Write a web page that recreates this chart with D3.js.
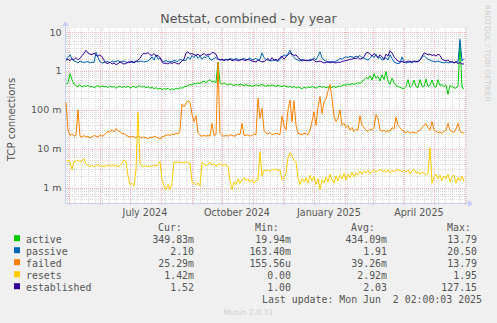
<!DOCTYPE html>
<html>
<head>
<meta charset="utf-8">
<script src="https://cdn.jsdelivr.net/npm/d3@7"></script>
<style>
  body { margin: 0; background: #f0f0f0; }
  svg { display: block; }
</style>
</head>
<body>
<svg id="chart" width="497" height="323"></svg>
<script>
// Netstat TCP connection rates, 2-day samples from 2024-04-28 to 2025-06-01
const startTime = Date.UTC(2024, 3, 28, 2, 0, 3);
const endTime = Date.UTC(2025, 5, 2, 2, 0, 3);
const stepDays = 2;

const seriesNames = ["active", "passive", "failed", "resets", "established"];
const seriesColors = ["#00cc00", "#0066b3", "#ff8000", "#ffcc00", "#330099"];

const active = [
  0.45,0.5,0.85,0.6,0.45,0.42,0.4,0.44,0.38,0.42,
  0.4,0.43,0.38,0.41,0.37,0.4,0.42,0.38,0.41,0.39,
  0.4,0.37,0.42,0.38,0.4,0.36,0.39,0.41,0.37,0.4,
  0.38,0.41,0.36,0.39,0.4,0.37,0.4,0.42,0.38,0.41,
  0.37,0.39,0.36,0.38,0.35,0.37,0.34,0.36,0.33,0.35,
  0.34,0.36,0.32,0.35,0.33,0.36,0.34,0.37,0.36,0.39,
  0.4,0.42,0.45,0.43,0.48,0.46,0.5,0.47,0.52,0.55,
  0.5,0.55,0.6,0.52,0.55,0.5,1.7,0.5,0.45,0.5,
  0.46,0.43,0.47,0.44,0.42,0.45,0.43,0.46,0.44,0.42,
  0.45,0.41,0.43,0.4,0.42,0.44,0.41,0.43,0.45,0.42,
  0.4,0.43,0.41,0.44,0.42,0.4,0.43,0.41,0.39,0.42,
  0.4,0.38,0.41,0.37,0.4,0.36,0.39,0.37,0.35,0.38,
  0.36,0.39,0.37,0.4,0.38,0.36,0.39,0.41,0.38,0.4,
  0.37,0.39,0.36,0.38,0.4,0.37,0.41,0.39,0.42,0.44,
  0.43,0.46,0.44,0.48,0.45,0.47,0.5,0.48,0.52,0.6,
  0.68,0.62,0.75,0.58,0.85,0.65,0.72,0.55,0.8,0.6,
  0.97,0.55,0.45,0.65,0.5,0.42,0.4,0.38,0.36,0.35,
  0.4,0.6,0.38,0.42,0.58,0.4,0.37,0.6,0.41,0.39,
  0.62,0.4,0.43,0.58,0.41,0.38,0.6,0.42,0.45,0.39,
  0.44,0.25,0.42,0.4,0.37,0.36,0.42,5.4,0.38,0.35
];

const passive = [
  2.0,2.2,2.6,2.0,1.8,1.75,1.6,1.8,1.7,1.65,
  1.7,1.75,1.6,1.7,1.65,3.0,2.2,1.7,1.6,1.65,
  1.7,1.75,1.6,1.8,1.7,1.75,1.85,1.7,1.75,1.8,
  1.7,1.6,1.75,1.65,1.7,1.8,1.7,1.75,1.8,1.7,
  1.75,1.8,2.0,2.3,1.9,2.6,2.0,2.2,1.8,1.75,
  1.85,1.7,1.8,1.7,1.9,1.8,1.75,2.0,1.9,1.85,
  1.9,2.3,2.0,2.5,2.2,2.6,2.1,2.4,2.0,2.3,
  2.2,2.5,2.0,1.9,2.1,2.2,1.95,2.0,1.9,1.95,
  2.0,1.9,2.1,2.0,1.95,2.1,2.0,1.9,2.0,2.1,
  1.95,2.0,2.2,1.9,2.0,2.1,1.95,2.0,2.9,2.2,
  2.0,1.9,1.85,1.8,1.9,1.85,1.75,2.0,2.3,2.6,
  2.4,2.8,3.4,2.5,2.2,2.0,1.9,1.8,2.0,1.9,
  1.85,1.8,2.0,1.9,2.2,1.9,2.4,3.1,2.2,1.9,
  1.8,1.7,1.75,1.65,1.7,1.8,1.9,2.1,2.0,2.2,
  2.3,2.2,2.4,2.3,2.2,2.4,2.3,2.5,2.2,2.1,
  2.0,1.9,2.1,2.5,2.2,2.7,2.1,2.3,1.9,2.0,
  2.2,1.9,2.6,2.1,1.7,1.6,1.55,1.6,2.3,1.7,
  1.6,1.65,1.7,1.6,1.75,1.7,1.8,1.9,2.2,2.5,
  2.2,2.0,1.9,1.8,1.75,1.7,1.8,1.7,1.65,1.6,
  1.7,1.6,1.65,1.7,1.6,1.75,1.7,6.5,1.8,2.1
];

const failed = [
  0.155,0.03,0.022,0.024,0.021,0.022,0.1,0.021,0.02,0.022,
  0.02,0.021,0.019,0.02,0.022,0.021,0.02,0.023,0.021,0.022,
  0.025,0.028,0.026,0.031,0.027,0.033,0.029,0.028,0.024,0.025,
  0.022,0.021,0.02,0.021,0.02,0.019,0.021,0.02,0.019,0.02,
  0.019,0.018,0.02,0.019,0.021,0.02,0.019,0.018,0.02,0.021,
  0.022,0.023,0.022,0.024,0.023,0.025,0.024,0.03,0.14,0.12,
  0.15,0.17,0.16,0.075,0.05,0.07,0.025,0.022,0.021,0.022,
  0.021,0.022,0.021,0.045,0.022,0.023,1.7,0.025,0.022,0.021,
  0.022,0.021,0.023,0.022,0.021,0.022,0.024,0.023,0.045,0.022,
  0.022,0.023,0.021,0.022,0.024,0.023,0.2,0.06,0.11,0.03,
  0.025,0.024,0.026,0.023,0.024,0.025,0.024,0.023,0.07,0.04,
  0.03,0.1,0.18,0.05,0.17,0.04,0.025,0.024,0.023,0.025,
  0.024,0.023,0.03,0.05,0.09,0.04,0.12,0.22,0.08,0.16,
  0.19,0.3,0.45,0.2,0.07,0.05,0.06,0.1,0.04,0.045,
  0.035,0.04,0.03,0.035,0.028,0.032,0.03,0.07,0.04,0.035,
  0.03,0.028,0.032,0.03,0.035,0.075,0.06,0.03,0.028,0.03,
  0.027,0.03,0.028,0.035,0.032,0.065,0.04,0.035,0.03,0.028,
  0.026,0.028,0.025,0.027,0.026,0.025,0.028,0.03,0.035,0.04,
  0.045,0.035,0.03,0.05,0.03,0.028,0.026,0.027,0.025,0.028,
  0.03,0.045,0.03,0.028,0.026,0.032,0.045,0.028,0.026,0.02529
];

const resets = [
  0.0049,0.005,0.0047,0.0029,0.0048,0.0047,0.0052,0.0046,0.005,0.0055,
  0.004,0.0037,0.0035,0.0038,0.0034,0.0036,0.0039,0.0035,0.0037,0.0034,
  0.0036,0.0038,0.0035,0.0039,0.0036,0.0037,0.0034,0.0038,0.0042,0.0052,
  0.0045,0.002,0.0012,0.0013,0.0011,0.003,0.085,0.004,0.0036,0.0035,
  0.0037,0.0034,0.0036,0.0035,0.0038,0.0036,0.0039,0.0047,0.0016,0.0011,
  0.0009,0.0012,0.0009,0.0013,0.0046,0.0045,0.0046,0.0044,0.0045,0.0043,
  0.0046,0.0044,0.0042,0.0014,0.0013,0.0012,0.0013,0.0011,0.0044,0.0042,
  0.0036,0.004,0.0045,0.0038,0.0041,0.0036,0.0039,0.0042,0.0037,0.004,
  0.0038,0.0035,0.0015,0.0009,0.0014,0.0012,0.0017,0.0013,0.0016,0.0018,
  0.0015,0.0017,0.0014,0.0016,0.0013,0.0015,0.0016,0.0083,0.002,0.0028,
  0.0027,0.0029,0.0026,0.003,0.0028,0.0031,0.0027,0.0029,0.0016,0.0018,
  0.0024,0.006,0.0079,0.0065,0.005,0.0045,0.0018,0.0012,0.0017,0.0014,
  0.0018,0.0013,0.0021,0.0015,0.0019,0.0012,0.0017,0.0009,0.0016,0.0013,
  0.0019,0.0014,0.0022,0.0016,0.0013,0.002,0.0015,0.0021,0.0017,0.0023,
  0.0016,0.0022,0.0018,0.0025,0.0019,0.0024,0.0021,0.0026,0.0022,0.0027,
  0.0024,0.0028,0.0023,0.0026,0.0029,0.0025,0.0027,0.003,0.0026,0.0028,
  0.0025,0.0029,0.0024,0.0027,0.0026,0.0028,0.0029,0.0027,0.0026,0.0028,
  0.0025,0.0029,0.0023,0.0027,0.003,0.0024,0.0026,0.0022,0.0025,0.0023,
  0.0021,0.0024,0.0106,0.0013,0.0019,0.0022,0.0017,0.0021,0.0015,0.002,
  0.0017,0.0022,0.0014,0.0019,0.0021,0.0013,0.0018,0.0015,0.002,0.00142
];

const established = [
  1.9,2.0,1.85,2.05,1.95,2.2,1.95,2.1,2.5,2.8,
  3.4,2.9,2.7,2.6,2.9,2.5,2.4,2.6,2.3,1.9,
  1.6,1.55,1.7,1.5,1.6,1.45,1.55,1.7,1.6,1.5,
  1.55,1.7,1.65,1.8,1.6,1.75,1.9,2.1,2.6,2.9,
  2.7,3.0,2.6,2.5,2.8,2.4,2.5,2.2,1.7,1.55,
  1.6,1.5,1.65,1.55,1.7,1.6,1.5,1.6,1.8,2.0,
  2.9,3.1,2.7,2.8,2.6,2.5,2.7,2.4,2.6,2.8,
  2.5,2.7,2.6,3.0,2.9,2.7,2.0,1.9,2.0,1.85,
  1.95,1.9,2.0,1.85,1.9,1.95,1.8,1.9,2.0,1.9,
  1.85,2.0,1.9,1.8,1.75,1.7,1.9,1.8,1.7,1.75,
  1.9,2.1,1.8,2.2,1.9,2.0,1.85,2.2,2.4,2.0,
  2.3,2.6,2.9,2.7,2.5,2.6,2.2,2.0,1.8,1.9,
  1.85,1.9,1.8,2.0,1.9,1.7,1.75,1.8,1.7,1.6,
  1.65,1.7,1.6,1.75,1.65,1.6,1.7,1.65,1.75,1.8,
  1.85,1.9,2.0,2.0,2.1,2.1,2.2,2.0,2.1,2.3,
  2.9,3.0,2.7,2.4,2.8,2.5,2.2,2.6,2.3,2.0,
  2.7,2.4,3.3,2.9,2.3,2.0,1.8,1.7,1.75,1.65,
  1.7,1.8,1.75,1.7,1.8,1.75,1.7,1.9,2.4,2.9,
  2.8,2.6,2.7,2.5,2.6,2.4,2.7,2.5,2.0,1.9,
  1.8,1.9,1.7,1.75,1.6,1.7,1.55,1.65,1.5,1.52
];

// Legend statistics
const statCur = ["349.83m", "2.10", "25.29m", "1.42m", "1.52"];
const statMin = ["19.94m", "163.40m", "155.56u", "0.00", "1.00"];
const statAvg = ["434.09m", "1.91", "39.26m", "2.92m", "2.03"];
const statMax = ["13.79", "20.50", "13.79", "1.95", "127.15"];

// Y axis ticks (decades) and their labels
const yTickValues = [0.001, 0.01, 0.1, 1, 10];
const yTickLabels = ["1 m", "10 m", "100 m", "1", "10"];

const titleText = "Netstat, combined - by year";
const yAxisTitle = "TCP connections";
const lastUpdate = "Last update: Mon Jun  2 02:00:03 2025";
const footerText = "Munin 2.0.73";
const sideText = "RRDTOOL / TOBI OETIKER";

const seriesValues = [active, passive, failed, resets, established];

// ---------- layout ----------
const plot = { left: 66, right: 466, top: 28, bottom: 203 };
const svg = d3.select("#chart");

const x = d3.scaleUtc()
  .domain([new Date(startTime), new Date(endTime)])
  .range([plot.left, plot.right]);

const y = d3.scaleLog()
  .domain([4.03e-4, 12.7])
  .range([plot.bottom, plot.top]);

const dates = d3.range(active.length).map(i => new Date(startTime + i * stepDays * 864e5));

// canvas
svg.append("rect")
  .attr("x", plot.left).attr("y", plot.top)
  .attr("width", plot.right - plot.left).attr("height", plot.bottom - plot.top)
  .attr("fill", "#ffffff");

const grid = svg.append("g").attr("shape-rendering", "crispEdges");
const minorColor = "#dadada";
const majorColor = "#f5b3b3";

// horizontal minor grid (2..9 within each decade)
const minorY = [];
for (let e = -4; e <= 1; e++) {
  for (let k = 2; k <= 9; k++) {
    const v = k * Math.pow(10, e);
    if (v > y.domain()[0] && v < 10) minorY.push(v);
  }
}
grid.selectAll("line.hmin").data(minorY).join("line")
  .attr("x1", plot.left).attr("x2", plot.right)
  .attr("y1", d => Math.round(y(d)) + 0.5).attr("y2", d => Math.round(y(d)) + 0.5)
  .attr("stroke", minorColor).attr("stroke-dasharray", "1,1");

// vertical minor grid (weekly)
const weeks = d3.utcMonday.every(1).range(new Date(startTime), new Date(endTime));
grid.selectAll("line.vmin").data(weeks).join("line")
  .attr("y1", plot.top).attr("y2", plot.bottom)
  .attr("x1", d => Math.round(x(d)) + 0.5).attr("x2", d => Math.round(x(d)) + 0.5)
  .attr("stroke", minorColor).attr("stroke-dasharray", "1,1");

// horizontal major grid (decades)
grid.selectAll("line.hmaj").data(yTickValues).join("line")
  .attr("x1", plot.left).attr("x2", plot.right)
  .attr("y1", d => Math.round(y(d)) + 0.5).attr("y2", d => Math.round(y(d)) + 0.5)
  .attr("stroke", majorColor).attr("stroke-dasharray", "1,1");

// vertical major grid (month starts)
const months = d3.utcMonth.range(new Date(startTime), new Date(endTime));
grid.selectAll("line.vmaj").data(months).join("line")
  .attr("y1", plot.top).attr("y2", plot.bottom + 2)
  .attr("x1", d => Math.round(x(d)) + 0.5).attr("x2", d => Math.round(x(d)) + 0.5)
  .attr("stroke", majorColor).attr("stroke-dasharray", "1,1");

// axes lines + arrows
const axisColor = "#c8cff5";
const ax = svg.append("g").attr("shape-rendering", "crispEdges");
ax.append("line").attr("x1", plot.left - 0.5).attr("x2", plot.left - 0.5)
  .attr("y1", plot.bottom).attr("y2", plot.top - 3).attr("stroke", axisColor);
ax.append("line").attr("x1", plot.left).attr("x2", plot.right + 3)
  .attr("y1", plot.bottom + 0.5).attr("y2", plot.bottom + 0.5).attr("stroke", axisColor);
svg.append("path")
  .attr("d", `M${plot.left - 4},${plot.top - 2} L${plot.left - 0.5},${plot.top - 7} L${plot.left + 3},${plot.top - 2} Z`)
  .attr("fill", axisColor);
svg.append("path")
  .attr("d", `M${plot.right + 2},${plot.bottom - 3} L${plot.right + 7},${plot.bottom + 0.5} L${plot.right + 2},${plot.bottom + 4} Z`)
  .attr("fill", axisColor);

// x axis labels (quarterly, centred on the middle of the month)
const labelMonths = months.filter(d => d.getUTCMonth() % 3 === 0);
const fmtMonth = d3.utcFormat("%B %Y");
svg.append("g").selectAll("text").data(labelMonths).join("text")
  .attr("x", d => x(d3.utcDay.offset(d, 15)))
  .attr("y", 215.5)
  .attr("text-anchor", "middle")
  .attr("font-family", "DejaVu Sans")
  .attr("font-size", 9.6)
  .attr("fill", "#555")
  .text(d => fmtMonth(d));

// y axis tick labels
svg.append("g").selectAll("text").data(yTickValues).join("text")
  .attr("x", 61.5)
  .attr("y", d => y(d) + 3.5)
  .attr("text-anchor", "end")
  .attr("font-family", "DejaVu Sans")
  .attr("font-size", 9.5)
  .attr("fill", "#555")
  .text((d, i) => yTickLabels[i]);

// series lines
const line = d3.line()
  .x((d, i) => x(dates[i]))
  .y(d => y(d));
const lines = svg.append("g");
seriesValues.forEach((vals, si) => {
  lines.append("path")
    .datum(vals)
    .attr("d", line)
    .attr("fill", "none")
    .attr("stroke", seriesColors[si])
    .attr("stroke-width", 1)
    .attr("stroke-linejoin", "round");
});

// title
svg.append("text")
  .attr("x", 248.5).attr("y", 23)
  .attr("text-anchor", "middle")
  .attr("font-family", "DejaVu Sans")
  .attr("font-size", 12.6)
  .attr("fill", "#555")
  .text(titleText);

// y axis title
svg.append("text")
  .attr("transform", `translate(15,${(plot.top + plot.bottom) / 2 + 4}) rotate(-90)`)
  .attr("text-anchor", "middle")
  .attr("font-family", "DejaVu Sans")
  .attr("font-size", 10.2)
  .attr("fill", "#555")
  .text(yAxisTitle);

// vertical side credit
svg.append("text")
  .attr("transform", "translate(485,5) rotate(90)")
  .attr("text-anchor", "start")
  .attr("font-family", "DejaVu Sans")
  .attr("font-size", 7.5)
  .attr("fill", "#cfcfcf")
  .text(sideText);

// legend
const mono = "DejaVu Sans Mono";
const legend = svg.append("g")
  .attr("font-family", mono)
  .attr("font-size", 9.9)
  .attr("fill", "#555");
const headerY = 230.7;
const rowH = 12;
[["Cur:", 158], ["Min:", 255], ["Avg:", 351], ["Max:", 447]].forEach(([t, px]) => {
  legend.append("text").attr("x", px).attr("y", headerY).text(t);
});
seriesNames.forEach((name, i) => {
  const by = headerY + rowH * (i + 1);
  legend.append("rect")
    .attr("x", 14).attr("y", by - 7.5).attr("width", 6).attr("height", 6)
    .attr("fill", seriesColors[i]);
  legend.append("text").attr("x", 26).attr("y", by).text(name);
  legend.append("text").attr("x", 194).attr("y", by).attr("text-anchor", "end").text(statCur[i]);
  legend.append("text").attr("x", 291).attr("y", by).attr("text-anchor", "end").text(statMin[i]);
  legend.append("text").attr("x", 387).attr("y", by).attr("text-anchor", "end").text(statAvg[i]);
  legend.append("text").attr("x", 477).attr("y", by).attr("text-anchor", "end").text(statMax[i]);
});
legend.append("text")
  .attr("x", 482).attr("y", headerY + rowH * 6)
  .attr("text-anchor", "end")
  .style("white-space", "pre")
  .text(lastUpdate);

// footer
svg.append("text")
  .attr("x", 248).attr("y", 315)
  .attr("text-anchor", "middle")
  .attr("font-family", "DejaVu Sans")
  .attr("font-size", 7.6)
  .attr("fill", "#cfcfcf")
  .text(footerText);
</script>
</body>
</html>
